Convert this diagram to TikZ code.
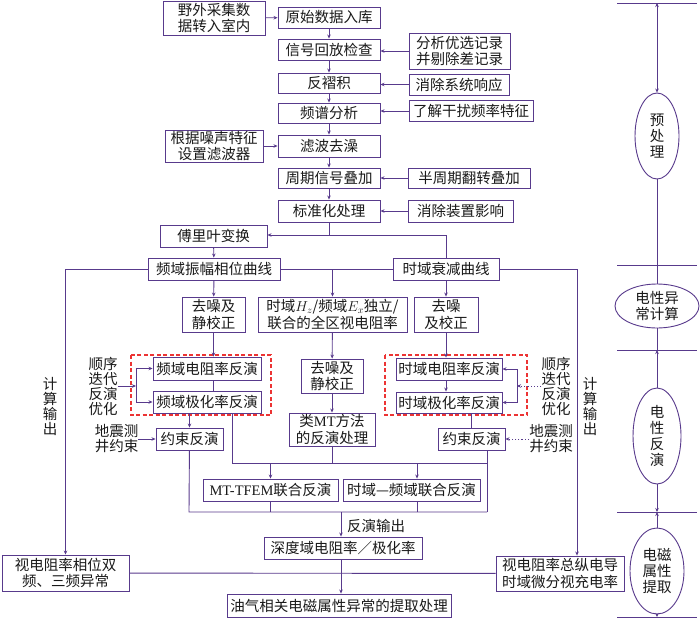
\documentclass[tikz,border=0pt]{standalone}
\usepackage{fontspec}
\setmainfont{Noto Sans CJK SC}
\newfontfamily\latf{Liberation Serif}
\usetikzlibrary{arrows.meta,shapes.geometric}
\definecolor{lnc}{RGB}{88,58,140}
\definecolor{dsh}{RGB}{236,52,52}

\begin{document}
\begin{tikzpicture}[x=1pt,y=-1pt,
block/.style={draw=lnc,line width=0.9pt,align=center,inner sep=0pt,minimum height=21pt,font=\fontsize{14.5}{16.5}\selectfont,text=black!90},
note/.style={align=center,inner sep=0pt,font=\fontsize{14.5}{15}\selectfont,text=black!90},
oval/.style={draw=lnc,line width=0.9pt,ellipse,inner sep=0pt,align=center,font=\fontsize{14.5}{16}\selectfont,text=black!90},
arrow/.style={-{Stealth[length=4pt,width=3.5pt]},line width=0.9pt,draw=lnc},
dblarrow/.style={{Stealth[length=4pt,width=3.5pt]}-{Stealth[length=4pt,width=3.5pt]},line width=0.9pt,draw=lnc},
link/.style={line width=0.9pt,draw=lnc},
dotlink/.style={dash pattern=on 1.2pt off 2pt},
dashbox/.style={draw=dsh,line width=1.1pt,dash pattern=on 4pt off 2.5pt},
sep/.style={line width=0.9pt,draw=lnc}]
\fill[white] (0,0) rectangle (700,618);
\useasboundingbox (0,0) rectangle (700,618);

\node[block,minimum width=102pt,minimum height=34pt] (n1) at (214,18) {野外采集数\\据转入室内};
\node[block,minimum width=102pt] (n2) at (329,17.5) {原始数据入库};
\node[block,minimum width=102pt] (n3) at (329,49.5) {信号回放检查};
\node[block,minimum width=101pt,minimum height=36pt] (s3) at (459.5,51) {分析优选记录\\并剔除差记录};
\node[block,minimum width=102pt,minimum height=20pt] (n4) at (329,83) {反褶积};
\node[block,minimum width=100pt] (s4) at (459,84.5) {消除系统响应};
\node[block,minimum width=102pt,minimum height=20pt] (n5) at (329,113) {频谱分析};
\node[block,minimum width=124pt] (s5) at (471,111) {了解干扰频率特征};
\node[block,minimum width=102pt,minimum height=22pt] (n6) at (329,146) {滤波去澡};
\node[block,minimum width=98pt,minimum height=32pt] (s6) at (214,146) {根据噪声特征\\设置滤波器};
\node[block,minimum width=102pt,minimum height=20pt] (n7) at (329,178) {周期信号叠加};
\node[block,minimum width=122pt,minimum height=20pt] (s7) at (469,178) {半周期翻转叠加};
\node[block,minimum width=102pt,minimum height=22pt] (n8) at (329,211) {标准化处理};
\node[block,minimum width=105pt,minimum height=22pt] (s8) at (460.5,211) {消除装置影响};
\node[block,minimum width=107pt,minimum height=22pt] (fft) at (213.5,236) {傅里叶变换};
\node[block,minimum width=132pt,minimum height=22pt] (freq) at (214,269) {频域振幅相位曲线};
\node[block,minimum width=106pt,minimum height=22pt] (time) at (446,269) {时域衰减曲线};
\node[block,minimum width=63pt,minimum height=35pt] (fdn) at (213.5,314.5) {去噪及\\静校正};
\node[block,minimum width=149pt,minimum height=35pt] (hz) at (332.5,314.5) {时域$H_z$/频域$E_x$独立/\\联合的全区视电阻率};
\node[block,minimum width=64pt,minimum height=35pt] (tdn) at (446,314.5) {去噪\\及校正};
\node[block,minimum width=108pt,minimum height=23pt] (frho) at (207,368.5) {频域电阻率反演};
\node[block,minimum width=108pt,minimum height=22pt] (fip) at (207,402) {频域极化率反演};
\node[block,minimum width=62pt,minimum height=34pt] (mdn) at (332,376) {去噪及\\静校正};
\node[block,minimum width=86pt,minimum height=33pt] (mt) at (332,429.5) {类{\latf MT}方法\\的反演处理};
\node[block,minimum width=106pt,minimum height=22pt] (trho) at (449,369) {时域电阻率反演};
\node[block,minimum width=106pt,minimum height=21pt] (tip) at (449,402.5) {时域极化率反演};
\node[block,minimum width=67pt,minimum height=22pt] (fcon) at (189.5,439) {约束反演};
\node[block,minimum width=67pt,minimum height=22pt] (tcon) at (471.5,439) {约束反演};
\node[block,minimum width=135pt,minimum height=22pt] (mtt) at (270.5,490) {{\latf MT-TFEM}联合反演};
\node[block,minimum width=137pt,minimum height=22pt] (tfj) at (411.5,490) {时域—频域联合反演};
\node[block,minimum width=158pt,minimum height=22pt] (depth) at (343,548) {深度域电阻率／极化率};
\node[block,minimum width=127pt,minimum height=36pt] (fout) at (65.5,573) {视电阻率相位双\\频、三频异常};
\node[block,minimum width=128pt,minimum height=35pt] (tout) at (560,573.5) {视电阻率总纵电导\\时域微分视充电率};
\node[block,minimum width=224pt,minimum height=23pt] (final) at (339,605.5) {油气相关电磁属性异常的提取处理};

\node[note] (lseq) at (103,386) {顺序\\迭代\\反演\\优化};
\node[note] (rseq) at (556,386) {顺序\\迭代\\反演\\优化};
\node[note] (lqk) at (116.5,439) {地震测\\井约束};
\node[note] (rqk) at (551,439) {地震测\\井约束};
\node[note] (lout) at (50,406) {计\\算\\输\\出};
\node[note] (rout) at (590,406) {计\\算\\输\\出};
\node[note] (invout) at (376,526) {反演输出};

\node[oval,minimum width=44pt,minimum height=86pt] (e1) at (657,136) {预\\处\\理};
\node[oval,minimum width=84pt,minimum height=44pt] (e2) at (657,306) {电性异\\常计算};
\node[oval,minimum width=48pt,minimum height=96pt] (e3) at (657,436) {电\\性\\反\\演};
\node[oval,minimum width=54pt,minimum height=86pt] (e4) at (657,571) {电磁\\属性\\提取};

\draw[dashbox] (131,355) rectangle (271,415);
\draw[dashbox] (385,355) rectangle (527,415);

\foreach \y in {3,265,350,512,617} \draw[sep] (617,\y) -- (697,\y);
\coordinate (r0) at (657,3);
\coordinate (r1) at (657,350);
\coordinate (r2) at (657,512);
\coordinate (r3) at (657,617);
\draw[dblarrow] (r0) -- (e1);
\draw[link] (e1) -- (e2);
\draw[link] (e2) -- (r1);
\draw[arrow] (e3) -- (r1);
\draw[arrow] (e3) -- (r2);
\draw[arrow] (e4) -- (r2);
\draw[arrow] (e4) -- (r3);

\draw[arrow] (n1) -- (n2);
\foreach \a/\b in {n2/n3,n3/n4,n4/n5,n5/n6,n6/n7,n7/n8} \draw[arrow] (\a) -- (\b);
\foreach \a/\b in {s3/n3,s4/n4,s5/n5,s7/n7,s8/n8} \draw[arrow] (\a) -- (\a -| \b.east);
\draw[arrow] (s6) -- (s6 -| n6.west);

\coordinate (j1) at (329,235);
\draw[link] (n8) -- (j1);
\draw[arrow] (j1) -- (j1 -| fft.east);
\draw[link] (j1) -| (time);
\draw[arrow] (fft) -- (freq);
\draw[arrow] (freq) -- (fdn);
\draw[arrow] (freq.west) -| (fout);
\draw[link] (freq) -- (time);
\draw[arrow] (hz.north |- freq) -- (hz);
\draw[arrow] (time.east) -| ([xshift=17pt]tout.north);
\draw[arrow] (time) -- (tdn);

\draw[arrow] (fdn.south) -- (fdn.south |- frho.north);
\draw[link] (frho.south -| fdn.south) -- (fip.north -| fdn.south);
\coordinate (lb) at (136,386);
\draw[arrow] (lseq) -- (lb);
\draw[arrow] (lb) |- (frho);
\draw[arrow] (lb) |- (fip);
\draw[arrow] (fip.south -| fcon.north) -- (fcon.north);
\draw[arrow] (lqk) -- (fcon);

\draw[arrow] (tdn.south) -- (tdn.south |- trho.north);
\draw[arrow] (trho.south -| tdn.south) -- (tip.north -| tdn.south);
\coordinate (rb) at (517,386);
\draw[arrow,dotlink] (rseq) -- (rb);
\draw[arrow] (rb) |- (trho);
\draw[arrow] (rb) |- (tip);
\draw[link] (tip.south -| tcon.north) -- (tcon.north);
\draw[arrow,dotlink] (rqk) -- (tcon);

\draw[arrow] (hz) -- (mdn);
\draw[arrow] (mdn) -- (mt);

\coordinate (u1) at (232,463);
\coordinate (u2) at (487,463);
\coordinate (w1) at (189,512);
\coordinate (w2) at (487,512);
\draw[link] ([xshift=25pt]fip.south) -- (u1) -- (u2);
\draw[link] (mt) -- (mt |- u1);
\draw[link] ([xshift=15.5pt]tcon.south) -- (w2);
\draw[arrow] (mtt.north |- u1) -- (mtt.north);
\draw[arrow] ([xshift=5.5pt]tfj.north |- u1) -- ([xshift=5.5pt]tfj.north);
\draw[link] (fcon) -- (w1) -- (w2);
\draw[link] (mtt) -- (mtt |- w1);
\draw[link] ([xshift=5.5pt]tfj.south) -- ([xshift=5.5pt]tfj.south |- w1);
\draw[arrow] ([xshift=-2pt]depth.north |- w1) -- ([xshift=-2pt]depth.north);
\draw[arrow] ([xshift=-2pt]depth.south) -- ([xshift=-2pt]depth.south |- final.north);
\draw[link] (fout) -- (tout);
\end{tikzpicture}
\end{document}
